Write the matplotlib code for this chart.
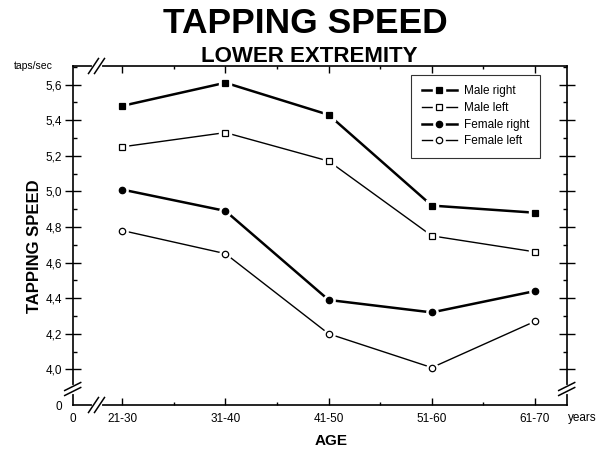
import numpy as np
import matplotlib
matplotlib.use("Agg")
import matplotlib.pyplot as plt
from matplotlib.lines import Line2D

plt.rcParams['font.family'] = ['Liberation Sans', 'DejaVu Sans']

# data
ages = ['21-30', '31-40', '41-50', '51-60', '61-70']
male_right = [5.48, 5.61, 5.43, 4.92, 4.88]
male_left = [5.25, 5.33, 5.17, 4.75, 4.66]
female_right = [5.01, 4.89, 4.39, 4.32, 4.44]
female_left = [4.78, 4.65, 4.20, 4.01, 4.27]

y_ticks = [4.0, 4.2, 4.4, 4.6, 4.8, 5.0, 5.2, 5.4, 5.6]

W, H = 610, 458
fig = plt.figure(figsize=(W / 100, H / 100), dpi=100)
ax_l, ax_r, ax_t, ax_b = 72.7, 566.7, 66.0, 405.0
ax = fig.add_axes([ax_l / W, 1 - ax_b / H, (ax_r - ax_l) / W, (ax_b - ax_t) / H])

x = np.arange(1, len(ages) + 1)
x0, x1 = 0.52, 5.307
y0, y1 = 3.8, 5.704
ax.set_xlim(x0, x1)
ax.set_ylim(y0, y1)

MS = 4.6


def series(vals, marker, face, lw):
    ax.plot(x, vals, color='black', lw=lw, zorder=2)
    ax.plot(x, vals, ls='none', marker=marker, ms=MS + 3.5, mfc='white', mec='white', zorder=3)
    ax.plot(x, vals, ls='none', marker=marker, ms=MS, mfc=face, mec='black', mew=0.9, zorder=4)


series(male_right, 's', 'black', 1.8)
series(male_left, 's', 'white', 1.0)
series(female_right, 'o', 'black', 1.8)
series(female_left, 'o', 'white', 1.0)

# axes / ticks
for s in ax.spines.values():
    s.set_linewidth(1.2)

ax.set_yticks([y0] + y_ticks)
ax.set_yticklabels(['0'] + [f'{v:.1f}'.replace('.', ',') for v in y_ticks], fontsize=8.5)
ax.set_yticks(np.arange(4.1, 5.71, 0.2), minor=True)
ax.set_xticks([x0] + list(x))
ax.set_xticklabels(['0'] + ages, fontsize=8.5)
ax.set_xticks([1.5, 2.5, 3.5, 4.5], minor=True)

ax.tick_params(axis='y', which='major', direction='inout', length=11, width=1.0,
               right=True, pad=2)
ax.tick_params(axis='y', which='minor', direction='in', length=3, width=1.0, right=True)
ax.tick_params(axis='x', which='major', direction='in', length=5, width=1.0, top=True, pad=6)
ax.tick_params(axis='x', which='minor', direction='in', length=2, width=1.0, top=True)
ax.yaxis.get_major_ticks()[0].tick1line.set_visible(False)
ax.yaxis.get_major_ticks()[0].tick2line.set_visible(False)
ax.xaxis.get_major_ticks()[0].tick1line.set_visible(False)
ax.xaxis.get_major_ticks()[0].tick2line.set_visible(False)

# axis break marks
aw, ah = ax_r - ax_l, ax_b - ax_t


def brk(cx, cy, dx, dy, ox, oy, gap_dir):
    # cx, cy in axes fraction; dx, dy, ox, oy in pixels
    px, py = 1 / aw, 1 / ah
    if gap_dir == 'h':
        ax.plot([cx - ox * px, cx + ox * px], [cy, cy], color='white', lw=3,
                transform=ax.transAxes, clip_on=False, zorder=5)
    else:
        ax.plot([cx, cx], [cy - oy * py, cy + oy * py], color='white', lw=3,
                transform=ax.transAxes, clip_on=False, zorder=5)
    for s in (-1, 1):
        ax.plot([cx + s * ox * px - dx * px, cx + s * ox * px + dx * px],
                [cy + s * oy * py - dy * py, cy + s * oy * py + dy * py],
                color='black', lw=1.1, transform=ax.transAxes, clip_on=False, zorder=6)


bx = (96.5 - ax_l) / aw
by = (ax_b - 389) / ah
brk(bx, 0, 5, 7.5, 3, 0, 'h')
brk(bx, 1, 5, 7.5, 3, 0, 'h')
brk(0, by, 8, 4, 0, 2.5, 'v')
brk(1, by, 8, 4, 0, 2.5, 'v')

# legend
def handle(marker, face, lw):
    return (Line2D([], [], color='black', lw=lw),
            Line2D([], [], ls='none', marker=marker, ms=MS + 3.5, mfc='white', mec='white'),
            Line2D([], [], ls='none', marker=marker, ms=MS, mfc=face, mec='black', mew=0.9))


handles = [handle('s', 'black', 1.8), handle('s', 'white', 1.0),
           handle('o', 'black', 1.8), handle('o', 'white', 1.0)]
labels = ['Male right', 'Male left', 'Female right', 'Female left']
leg = ax.legend(handles, labels, loc='upper right',
                bbox_to_anchor=((540 - ax_l) / aw, (ax_b - 74.7) / ah),
                borderaxespad=0, fancybox=False, frameon=True, fontsize=8.5,
                handlelength=3.0, labelspacing=0.4, handletextpad=0.6,
                borderpad=0.9)
leg.get_frame().set_edgecolor('black')
leg.get_frame().set_linewidth(0.8)

# texts
fig.text(305 / W, 1 - 33.3 / H, 'TAPPING SPEED', ha='center', va='baseline',
         fontsize=25.5, fontweight='bold')
fig.text(309 / W, 1 - 62.3 / H, 'LOWER EXTREMITY', ha='center', va='baseline',
         fontsize=16, fontweight='bold')
fig.text(33 / W, 1 - 66 / H, 'taps/sec', ha='center', va='center', fontsize=7.5)
fig.text(568 / W, 1 - 418 / H, 'years', ha='left', va='center', fontsize=8.5)
fig.text(331 / W, 1 - 441 / H, 'AGE', ha='center', va='center', fontsize=11,
         fontweight='bold')
fig.text(35 / W, 1 - 246 / H, 'TAPPING SPEED', ha='center', va='center',
         rotation=90, fontsize=12, fontweight='bold')

fig.savefig('out.png', dpi=100)
